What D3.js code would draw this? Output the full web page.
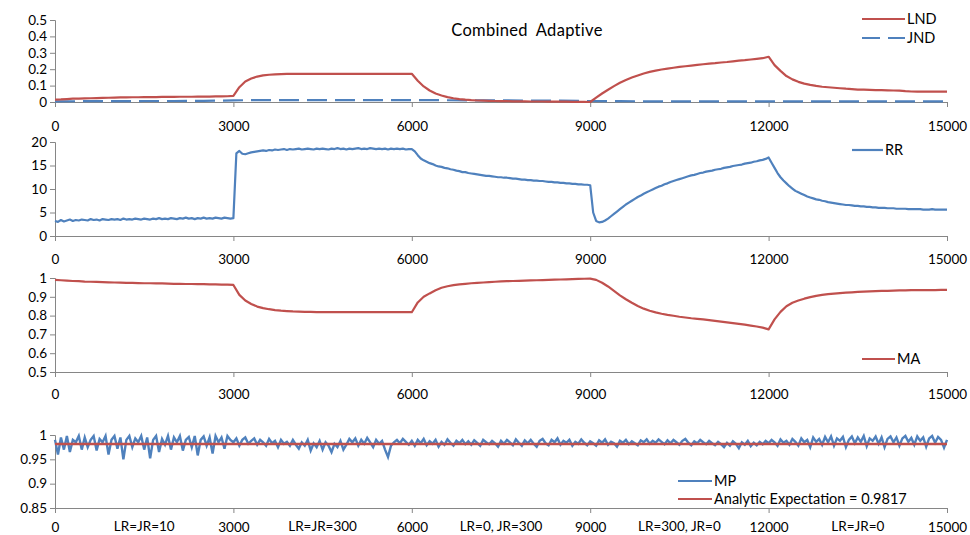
<!DOCTYPE html>
<html><head><meta charset="utf-8">
<script src="https://cdn.jsdelivr.net/npm/d3@7"></script>
<style>
body{margin:0;background:#fff}
text{font-family:Lato,"Open Sans","Liberation Sans",sans-serif;fill:#000}
</style></head>
<body><svg id="c" width="970" height="535"></svg>
<script>
// ---------- DATA ----------
const xTickValues = [0, 3000, 6000, 9000, 12000, 15000];
const title = "Combined Adaptive";
const phaseLabels = ["LR=JR=10", "LR=JR=300", "LR=0, JR=300", "LR=300, JR=0", "LR=JR=0"];
const phaseCenters = [1500, 4500, 7500, 10500, 13500];

const lndStep = 100;
const lnd = [
0.015,0.016,0.018,0.02,0.021,0.022,0.023,0.024,0.025,0.026,
0.027,0.028,0.028,0.029,0.029,0.03,0.03,0.03,0.031,0.031,
0.031,0.032,0.032,0.032,0.033,0.033,0.033,0.034,0.034,0.035,
0.037,0.09,0.125,0.143,0.155,0.162,0.166,0.168,0.17,0.171,
0.172,0.172,0.172,0.172,0.172,0.172,0.172,0.172,0.172,0.172,
0.172,0.172,0.172,0.172,0.172,0.172,0.172,0.172,0.172,0.172,
0.172,0.13,0.095,0.07,0.052,0.04,0.03,0.023,0.018,0.014,
0.011,0.009,0.008,0.007,0.006,0.005,0.005,0.004,0.004,0.004,
0.003,0.003,0.003,0.002,0.002,0.002,0.002,0.001,0.001,0.001,
0.0,0.027,0.052,0.075,0.097,0.117,0.134,0.149,0.162,0.174,
0.184,0.191,0.198,0.204,0.209,0.214,0.218,0.222,0.226,0.23,
0.234,0.237,0.241,0.244,0.248,0.252,0.255,0.259,0.263,0.267,
0.276,0.225,0.19,0.158,0.138,0.123,0.112,0.104,0.098,0.093,
0.09,0.087,0.084,0.081,0.079,0.076,0.075,0.074,0.073,0.072,
0.071,0.07,0.069,0.066,0.064,0.063,0.063,0.063,0.063,0.063,
0.063];

const jndStep = 500;
const jnd = [0.004,0.005,0.005,0.006,0.006,0.007,0.01,0.012,0.012,0.012,
0.012,0.012,0.012,0.011,0.01,0.01,0.009,0.008,0.006,0.005,
0.004,0.004,0.004,0.004,0.004,0.004,0.004,0.004,0.004,0.004,0.004];

const rrStep = 50;
const rr = [
3.2,3.0,3.4,3.1,3.3,3.5,3.2,3.4,3.3,3.5,
3.4,3.3,3.6,3.4,3.5,3.3,3.6,3.5,3.4,3.6,
3.5,3.6,3.4,3.7,3.5,3.6,3.5,3.7,3.6,3.5,
3.7,3.6,3.5,3.7,3.6,3.8,3.6,3.7,3.6,3.8,
3.7,3.6,3.8,3.7,3.9,3.7,3.8,3.6,3.8,3.7,
3.9,3.7,3.8,3.7,3.9,3.8,3.7,3.9,3.8,3.7,
3.8,17.6,18.1,17.5,17.4,17.6,17.8,17.9,18.0,18.1,
18.2,18.1,18.3,18.2,18.4,18.3,18.4,18.5,18.3,18.5,
18.4,18.5,18.6,18.4,18.5,18.6,18.5,18.4,18.6,18.5,
18.6,18.5,18.4,18.6,18.5,18.7,18.5,18.6,18.4,18.6,
18.5,18.6,18.7,18.5,18.6,18.5,18.7,18.6,18.5,18.6,
18.5,18.6,18.4,18.6,18.5,18.6,18.5,18.6,18.4,18.5,
18.5,18.0,17.2,16.5,16.1,15.8,15.5,15.3,15.0,14.8,
14.7,14.5,14.4,14.2,14.1,13.9,13.8,13.6,13.6,13.4,
13.3,13.2,13.1,13.0,12.9,12.8,12.8,12.7,12.6,12.5,
12.5,12.4,12.4,12.3,12.2,12.2,12.1,12.0,12.0,11.9,
11.9,11.8,11.8,11.7,11.7,11.6,11.5,11.5,11.4,11.4,
11.3,11.3,11.2,11.2,11.1,11.1,11.0,11.0,10.9,10.9,
10.8,5.0,3.2,2.9,3.0,3.3,3.7,4.2,4.7,5.2,
5.7,6.2,6.7,7.1,7.5,7.9,8.3,8.6,9.0,9.3,
9.6,9.9,10.2,10.5,10.7,11.0,11.2,11.5,11.7,11.9,
12.1,12.3,12.5,12.7,12.9,13.0,13.2,13.4,13.5,13.7,
13.8,13.9,14.1,14.2,14.3,14.5,14.6,14.7,14.9,15.0,
15.1,15.2,15.4,15.5,15.6,15.8,15.9,16.1,16.2,16.4,
16.7,15.6,14.5,13.4,12.5,11.8,11.2,10.6,10.1,9.6,
9.3,9.0,8.7,8.4,8.2,8.0,7.8,7.7,7.5,7.4,
7.2,7.1,7.0,6.9,6.8,6.7,6.6,6.6,6.5,6.4,
6.4,6.3,6.3,6.2,6.2,6.1,6.1,6.0,6.0,6.0,
5.9,5.9,5.9,5.8,5.8,5.8,5.8,5.7,5.7,5.7,
5.7,5.7,5.6,5.6,5.6,5.7,5.6,5.6,5.6,5.6,
5.6];

const maStep = 100;
const ma = [
0.99,0.988,0.986,0.984,0.983,0.981,0.98,0.979,0.978,0.977,
0.976,0.975,0.974,0.974,0.973,0.972,0.972,0.971,0.971,0.97,
0.969,0.969,0.968,0.968,0.967,0.967,0.966,0.966,0.965,0.965,
0.963,0.91,0.88,0.862,0.848,0.84,0.834,0.829,0.826,0.824,
0.822,0.821,0.82,0.82,0.819,0.819,0.819,0.818,0.818,0.818,
0.818,0.818,0.818,0.818,0.818,0.818,0.818,0.818,0.818,0.818,
0.818,0.87,0.9,0.918,0.935,0.948,0.956,0.962,0.966,0.969,
0.972,0.974,0.976,0.978,0.98,0.982,0.983,0.984,0.985,0.986,
0.987,0.988,0.989,0.99,0.991,0.992,0.993,0.994,0.995,0.996,
0.997,0.99,0.975,0.955,0.932,0.908,0.887,0.868,0.851,0.837,
0.826,0.817,0.81,0.804,0.799,0.794,0.79,0.786,0.783,0.78,
0.776,0.772,0.768,0.764,0.76,0.756,0.752,0.747,0.742,0.736,
0.727,0.78,0.82,0.85,0.868,0.88,0.89,0.898,0.905,0.91,
0.914,0.917,0.92,0.922,0.924,0.926,0.928,0.929,0.93,0.931,
0.932,0.933,0.934,0.934,0.935,0.935,0.936,0.936,0.936,0.937,
0.937];

const mpStep = 50;
const mp = [
0.99,0.96,0.995,0.97,0.998,0.965,0.99,0.985,0.998,0.97,
0.995,0.975,0.99,0.998,0.968,0.992,0.985,0.998,0.96,0.99,
0.998,0.972,0.995,0.95,0.99,0.998,0.975,0.993,0.985,0.998,
0.97,0.995,0.952,0.99,0.998,0.965,0.992,0.98,0.998,0.97,
0.995,0.985,0.998,0.968,0.99,0.996,0.975,0.998,0.958,0.99,
0.997,0.978,0.995,0.962,0.998,0.985,0.995,0.972,0.998,0.99,
0.985,0.993,0.978,0.99,0.995,0.982,0.988,0.993,0.98,0.99,
0.985,0.978,0.992,0.983,0.988,0.975,0.99,0.982,0.986,0.978,
0.99,0.98,0.972,0.985,0.978,0.99,0.968,0.983,0.975,0.988,
0.97,0.985,0.978,0.965,0.982,0.975,0.988,0.97,0.98,0.992,
0.985,0.993,0.978,0.99,0.982,0.994,0.985,0.975,0.99,0.982,
0.988,0.97,0.955,0.978,0.985,0.99,0.983,0.992,0.986,0.98,
0.988,0.978,0.99,0.983,0.992,0.979,0.987,0.982,0.99,0.976,
0.986,0.98,0.991,0.984,0.978,0.988,0.983,0.99,0.981,0.987,
0.98,0.989,0.984,0.978,0.99,0.985,0.981,0.988,0.983,0.976,
0.988,0.982,0.99,0.985,0.979,0.991,0.984,0.978,0.989,0.983,
0.99,0.982,0.976,0.988,0.992,0.983,0.979,0.99,0.985,0.993,
0.98,0.988,0.984,0.99,0.978,0.986,0.982,0.991,0.984,0.979,
0.987,0.983,0.978,0.989,0.984,0.991,0.98,0.986,0.983,0.976,
0.988,0.984,0.99,0.981,0.987,0.983,0.979,0.989,0.985,0.991,
0.982,0.988,0.984,0.991,0.986,0.981,0.989,0.983,0.99,0.985,
0.98,0.988,0.992,0.984,0.979,0.987,0.983,0.99,0.985,0.981,
0.988,0.983,0.979,0.986,0.981,0.975,0.984,0.978,0.987,0.982,
0.973,0.985,0.98,0.988,0.977,0.984,0.979,0.986,0.981,0.988,
0.983,0.99,0.985,0.978,0.991,0.984,0.988,0.98,0.992,0.986,
0.978,0.993,0.985,0.99,0.975,0.995,0.986,0.992,0.98,0.996,
0.985,0.997,0.978,0.993,0.988,0.996,0.975,0.99,0.997,0.983,
0.995,0.986,0.998,0.977,0.993,0.988,0.997,0.982,0.995,0.975,
0.992,0.997,0.985,0.995,0.978,0.993,0.998,0.986,0.994,0.98,
0.997,0.988,0.995,0.976,0.993,0.998,0.984,0.996,0.99,0.974,
0.99];
const analyticExpectation = 0.9817;

// ---------- STYLE / LAYOUT ----------
const RED = "#C0504D", BLUE = "#4F81BD", AXIS = "#868686";
const svg = d3.select("#c");
const x = d3.scaleLinear().domain([0, 15000]).range([55, 947]);

const panels = [
  {top: 20, bot: 102, domain: [0, 0.5], ticks: [0,0.1,0.2,0.3,0.4,0.5], labelDy: 28},
  {top: 142, bot: 236, domain: [0, 20], ticks: [0,5,10,15,20], labelDy: 27},
  {top: 278, bot: 372, domain: [0.5, 1], ticks: [0.5,0.6,0.7,0.8,0.9,1], labelDy: 26},
  {top: 435, bot: 508, domain: [0.85, 1], ticks: [0.85,0.9,0.95,1], labelDy: 23}
];
panels.forEach(p => { p.y = d3.scaleLinear().domain(p.domain).range([p.bot, p.top]); });

const fmt = v => String(+v.toFixed(2));

panels.forEach((p, i) => {
  const gy = svg.append("g").attr("transform", `translate(${x(0)},0)`)
    .call(d3.axisLeft(p.y).tickValues(p.ticks).tickFormat(fmt).tickSize(5).tickPadding(3));
  const gx = svg.append("g").attr("transform", `translate(0,${p.bot})`)
    .call(d3.axisBottom(x).tickValues(xTickValues).tickFormat(d3.format("d")).tickSize(5).tickPadding(p.labelDy - 14));
  [gy, gx].forEach(g => {
    g.select(".domain").attr("stroke", AXIS).attr("stroke-width", 1);
    g.selectAll(".tick line").attr("stroke", AXIS);
    g.selectAll(".tick text").attr("font-size", 13.5).attr("font-family", "Lato, sans-serif").attr("fill", "#000");
  });
});

function series(vals, step) { return vals.map((v, i) => [i * step, v]); }
function drawLine(p, data, color, dash) {
  const line = d3.line().x(d => x(d[0])).y(d => p.y(d[1]));
  const path = svg.append("path").datum(data).attr("d", line)
    .attr("fill", "none").attr("stroke", color).attr("stroke-width", 2.2)
    .attr("stroke-linejoin", "round");
  if (dash) path.attr("stroke-dasharray", dash);
}

// Panel 1
drawLine(panels[0], series(jnd, jndStep), BLUE, "20,8");
drawLine(panels[0], series(lnd, lndStep), RED);
// Panel 2
drawLine(panels[1], series(rr, rrStep), BLUE);
// Panel 3
drawLine(panels[2], series(ma, maStep), RED);
// Panel 4
const mpLine = d3.line().x(d => x(d[0])).y(d => panels[3].y(d[1]));
svg.append("path").datum(series(mp, mpStep)).attr("d", mpLine)
  .attr("fill", "none").attr("stroke", BLUE).attr("stroke-width", 2.4);
svg.append("path").datum([[0, analyticExpectation], [15000, analyticExpectation]]).attr("d", mpLine)
  .attr("fill", "none").attr("stroke", RED).attr("stroke-width", 2.5);

// Title
svg.append("text").attr("x", 527).attr("y", 36).attr("text-anchor", "middle")
  .attr("font-size", 16.5).attr("word-spacing", 4).attr("letter-spacing", 0.3).text(title);

// Phase labels
svg.selectAll("text.phase").data(phaseLabels).enter().append("text")
  .attr("class", "phase").attr("x", (d, i) => x(phaseCenters[i])).attr("y", 531)
  .attr("text-anchor", "middle").attr("font-size", 13.5).text(d => d);

// Legends
function legend(x1, x2, y, color, label, dash) {
  const l = svg.append("line").attr("x1", x1).attr("x2", x2).attr("y1", y).attr("y2", y)
    .attr("stroke", color).attr("stroke-width", 2.2);
  if (dash) l.attr("stroke-dasharray", dash);
  svg.append("text").attr("x", x2 + 2).attr("y", y).attr("dy", "0.35em")
    .attr("font-size", 14.5).text(label);
}
legend(862, 905, 19, RED, "LND");
legend(862, 905, 38, BLUE, "JND", "18,8");
legend(852, 883, 150, BLUE, "RR");
legend(862, 895, 359, RED, "MA");
legend(678, 712, 481, BLUE, "MP");
legend(678, 712, 499, RED, "Analytic Expectation = 0.9817");
</script></body></html>
